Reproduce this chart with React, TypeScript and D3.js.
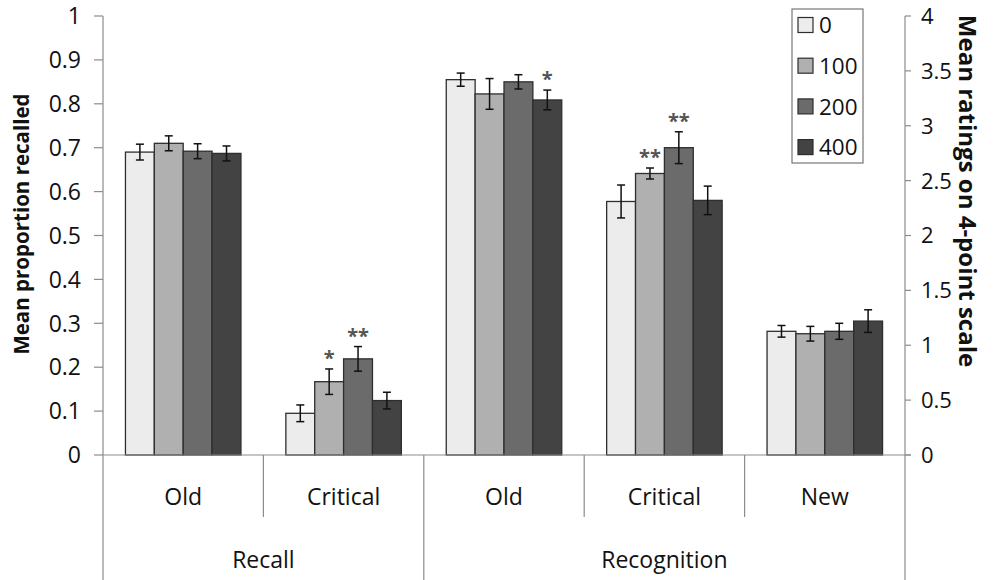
import React from "react";
import * as d3 from "d3";

const seriesNames = ["0", "100", "200", "400"];
const seriesColors = ["#ececec", "#b0b0b0", "#6b6b6b", "#434343"];
const categoryLabels = ["Old", "Critical", "Old", "Critical", "New"];
const groupLabels = ["Recall", "Recognition"];
const categoryGroup = [0, 0, 1, 1, 1];
// Recall values on the left axis (proportion), recognition on the right axis (ratings)
const recallOld = [0.69, 0.71, 0.692, 0.687];
const recallOldErr = [0.018, 0.017, 0.017, 0.017];
const recallCritical = [0.095, 0.167, 0.219, 0.124];
const recallCriticalErr = [0.019, 0.029, 0.028, 0.019];
const recogOld = [3.42, 3.29, 3.4, 3.235];
const recogOldErr = [0.06, 0.14, 0.065, 0.09];
const recogCritical = [2.31, 2.565, 2.8, 2.32];
const recogCriticalErr = [0.15, 0.05, 0.145, 0.13];
const recogNew = [1.127, 1.105, 1.127, 1.22];
const recogNewErr = [0.053, 0.067, 0.073, 0.103];
const sigRecallCritical = ["", "*", "**", ""];
const sigRecogOld = ["", "", "", "*"];
const sigRecogCritical = ["", "**", "**", ""];
const sigNone = ["", "", "", ""];
const leftTicks = [0, 0.1, 0.2, 0.3, 0.4, 0.5, 0.6, 0.7, 0.8, 0.9, 1];
const rightTicks = [0, 0.5, 1, 1.5, 2, 2.5, 3, 3.5, 4];

const W = 993;
const H = 580;
const FONT = "'Open Sans', sans-serif";

export default function App() {
  const left = 103;
  const right = 905;
  const top = 16;
  const bottom = 455;
  const yL = d3.scaleLinear().domain([0, 1]).range([bottom, top]);
  const yR = d3.scaleLinear().domain([0, 4]).range([bottom, top]);
  const x0 = d3.scaleBand<number>().domain(d3.range(5)).range([left, right]).padding(0);
  const cw = x0.bandwidth();
  const x1 = d3.scaleBand<string>().domain(seriesNames).range([cw * 0.14, cw * 0.86]).padding(0);

  const cats = [
    { v: recallOld, e: recallOldErr, s: sigNone, y: yL },
    { v: recallCritical, e: recallCriticalErr, s: sigRecallCritical, y: yL },
    { v: recogOld, e: recogOldErr, s: sigRecogOld, y: yR },
    { v: recogCritical, e: recogCriticalErr, s: sigRecogCritical, y: yR },
    { v: recogNew, e: recogNewErr, s: sigNone, y: yR },
  ];

  const axisColor = "#8c8c8c";
  const groupBounds = [left, x0(2)!, right];

  return (
    <svg width={W} height={H} style={{ position: "absolute", left: 0, top: 0, background: "#fff" }}>
      {/* bars */}
      {cats.map((c, ci) =>
        c.v.map((v, si) => {
          const bx = x0(ci)! + x1(seriesNames[si])!;
          const bw = x1.bandwidth();
          const yTop = c.y(v);
          const eTop = c.y(v + c.e[si]);
          const eBot = c.y(v - c.e[si]);
          const cx = bx + bw / 2;
          return (
            <g key={`${ci}-${si}`}>
              <rect x={bx} y={yTop} width={bw} height={bottom - yTop} fill={seriesColors[si]} stroke="#2e2e2e" strokeWidth={1.3} />
              <line x1={cx} x2={cx} y1={eTop} y2={eBot} stroke="#111" strokeWidth={1.5} />
              <line x1={cx - 4} x2={cx + 4} y1={eTop} y2={eTop} stroke="#111" strokeWidth={1.5} />
              <line x1={cx - 4} x2={cx + 4} y1={eBot} y2={eBot} stroke="#111" strokeWidth={1.5} />
              {c.s[si] && (
                <text x={cx} y={eTop - 4} textAnchor="middle" fontFamily={FONT} fontWeight="bold" fontSize={20} fill="#555">
                  {c.s[si]}
                </text>
              )}
            </g>
          );
        })
      )}

      {/* axes */}
      <line x1={left} x2={left} y1={top} y2={H} stroke={axisColor} strokeWidth={1.2} />
      <line x1={right} x2={right} y1={top} y2={H} stroke={axisColor} strokeWidth={1.2} />
      <line x1={left} x2={right + 6} y1={bottom} y2={bottom} stroke={axisColor} strokeWidth={1.2} />
      {leftTicks.map((t) => (
        <g key={`l${t}`}>
          <line x1={left - 9} x2={left} y1={yL(t)} y2={yL(t)} stroke={axisColor} strokeWidth={1.2} />
          <text x={81} y={yL(t)} dy="0.36em" textAnchor="end" fontFamily={FONT} fontSize={23} fill="#111">
            {t}
          </text>
        </g>
      ))}
      {rightTicks.map((t) => (
        <g key={`r${t}`}>
          <line x1={right} x2={right + 6} y1={yR(t)} y2={yR(t)} stroke={axisColor} strokeWidth={1.2} />
          <text x={921} y={yR(t)} dy="0.36em" textAnchor="start" fontFamily={FONT} fontSize={22} fill="#111">
            {t}
          </text>
        </g>
      ))}

      {/* category dividers */}
      {d3.range(1, 5).map((i) => {
        const xx = x0(i)!;
        const isGroup = categoryGroup[i] !== categoryGroup[i - 1];
        return <line key={`d${i}`} x1={xx} x2={xx} y1={bottom} y2={isGroup ? H : 517} stroke={axisColor} strokeWidth={1.2} />;
      })}

      {/* category labels */}
      {categoryLabels.map((lab, i) => (
        <text key={`c${i}`} x={x0(i)! + cw / 2} y={497} dy="0.36em" textAnchor="middle" fontFamily={FONT} fontSize={23} fill="#111">
          {lab}
        </text>
      ))}
      {groupLabels.map((g, i) => (
        <text key={`g${i}`} x={(groupBounds[i] + groupBounds[i + 1]) / 2} y={560} dy="0.36em" textAnchor="middle" fontFamily={FONT} fontSize={23} fill="#111">
          {g}
        </text>
      ))}

      {/* axis titles */}
      <text transform="translate(22,224) rotate(-90)" dy="0.36em" textAnchor="middle" fontFamily={FONT} fontWeight="bold" fontSize={20.5} fill="#111">
        Mean proportion recalled
      </text>
      <text transform="translate(968,191) rotate(90)" dy="0.36em" textAnchor="middle" fontFamily={FONT} fontWeight="bold" fontSize={24} fill="#111">
        Mean ratings on 4-point scale
      </text>

      {/* legend */}
      <rect x={792} y={9} width={71} height={154} fill="#fff" stroke="#777" strokeWidth={1.2} />
      {seriesNames.map((s, i) => {
        const cy = 25 + i * 40.7;
        return (
          <g key={`lg${s}`}>
            <rect x={798} y={cy - 7.5} width={15} height={15} fill={seriesColors[i]} stroke="#2e2e2e" strokeWidth={1.2} />
            <text x={819} y={cy} dy="0.36em" fontFamily={FONT} fontSize={22.5} fill="#111">
              {s}
            </text>
          </g>
        );
      })}
    </svg>
  );
}
